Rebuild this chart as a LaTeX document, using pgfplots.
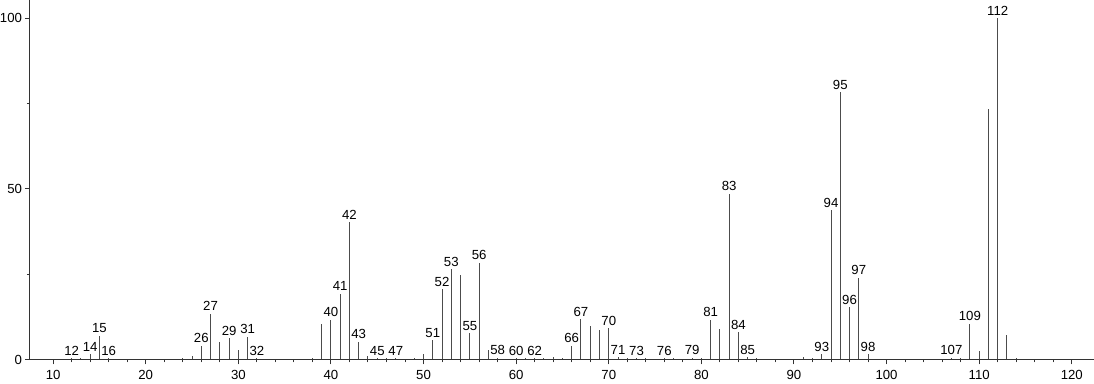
\documentclass[border=0pt]{standalone}
\usepackage{fontspec}
\setmainfont{Liberation Sans}
\usepackage{pgfplots}
\usepackage{pgfplotstable}
\pgfplotsset{compat=1.18}
\pgfplotstableread{
x y
12 0.4
13 0.4
14 1.5
15 7.0
16 0.4
24 0.4
25 1.1
26 4.1
27 13.4
28 5.2
29 6.2
30 2.8
31 6.7
32 0.3
38 0.4
39 10.4
40 11.6
41 19.3
42 40.2
43 5.2
44 1.1
45 0.4
46 0.3
47 0.4
49 0.4
50 1.7
51 5.7
52 20.6
53 26.4
54 24.8
55 7.7
56 28.4
57 2.8
58 0.5
60 0.4
61 0.3
62 0.4
63 0.4
64 0.7
65 0.5
66 4.0
67 11.8
68 9.8
69 8.6
70 9.2
71 0.6
72 0.3
73 0.4
74 0.3
76 0.4
77 0.4
79 0.5
80 0.3
81 11.6
82 9.0
83 48.6
84 8.0
85 0.6
86 0.3
91 0.6
92 0.5
93 1.6
94 43.8
95 78.3
96 15.3
97 24.0
98 1.5
107 0.5
108 0.4
109 10.5
110 2.5
111 73.3
112 100
113 7.1
114 0.5
}\peaks
\pgfplotstableread{
x y lab
12 0.4 12
14 1.5 14
15 7.0 15
16 0.4 16
26 4.1 26
27 13.4 27
29 6.2 29
31 6.7 31
32 0.3 32
40 11.6 40
41 19.3 41
42 40.2 42
43 5.2 43
45 0.4 45
47 0.4 47
51 5.7 51
52 20.6 52
53 26.4 53
55 7.7 55
56 28.4 56
58 0.5 58
60 0.4 60
62 0.4 62
66 4.0 66
67 11.8 67
70 9.2 70
71 0.6 71
73 0.4 73
76 0.4 76
79 0.5 79
81 11.6 81
83 48.6 83
84 8.0 84
85 0.6 85
93 1.6 93
94 43.8 94
95 78.3 95
96 15.3 96
97 24.0 97
98 1.5 98
107 0.5 107
109 10.5 109
112 100 112
}\labels
\begin{document}
\begin{tikzpicture}
\begin{axis}[
  name=ax,
  scale only axis, width=532pt, height=179.75pt,
  xmin=7.5, xmax=122.4, ymin=0, ymax=105.4,
  axis x line*=bottom, axis y line*=left,
  axis line style={-, black!80, line width=0.5pt},
  xtick={10,20,...,120}, minor x tick num=4,
  ytick={0,50,100}, minor y tick num=1,
  tick align=outside, major tick length=2.5pt, minor tick length=1.5pt,
  tick style={black!80, line width=0.5pt},
  ticklabel style={font=\fontsize{6.6}{7.8}\selectfont},
  xticklabel style={inner sep=2.8pt},
  yticklabel style={inner sep=1.3pt},
  /pgf/number format/assume math mode=true,
  clip=false,
]
\addplot[ycomb, mark=none, draw=black!70, line width=0.5pt] table[x=x,y=y] {\peaks};
\addplot[only marks, mark=none, draw=none,
  nodes near coords, point meta=explicit symbolic,
  nodes near coords style={font=\fontsize{6.6}{7.8}\selectfont, anchor=south, inner sep=1.2pt, text=black}]
  table[x=x,y=y,meta=lab] {\labels};
\end{axis}
\pgfresetboundingbox
\path ([xshift=-15pt, yshift=-12.25pt]ax.south west) rectangle (ax.north east);
\end{tikzpicture}
\end{document}
